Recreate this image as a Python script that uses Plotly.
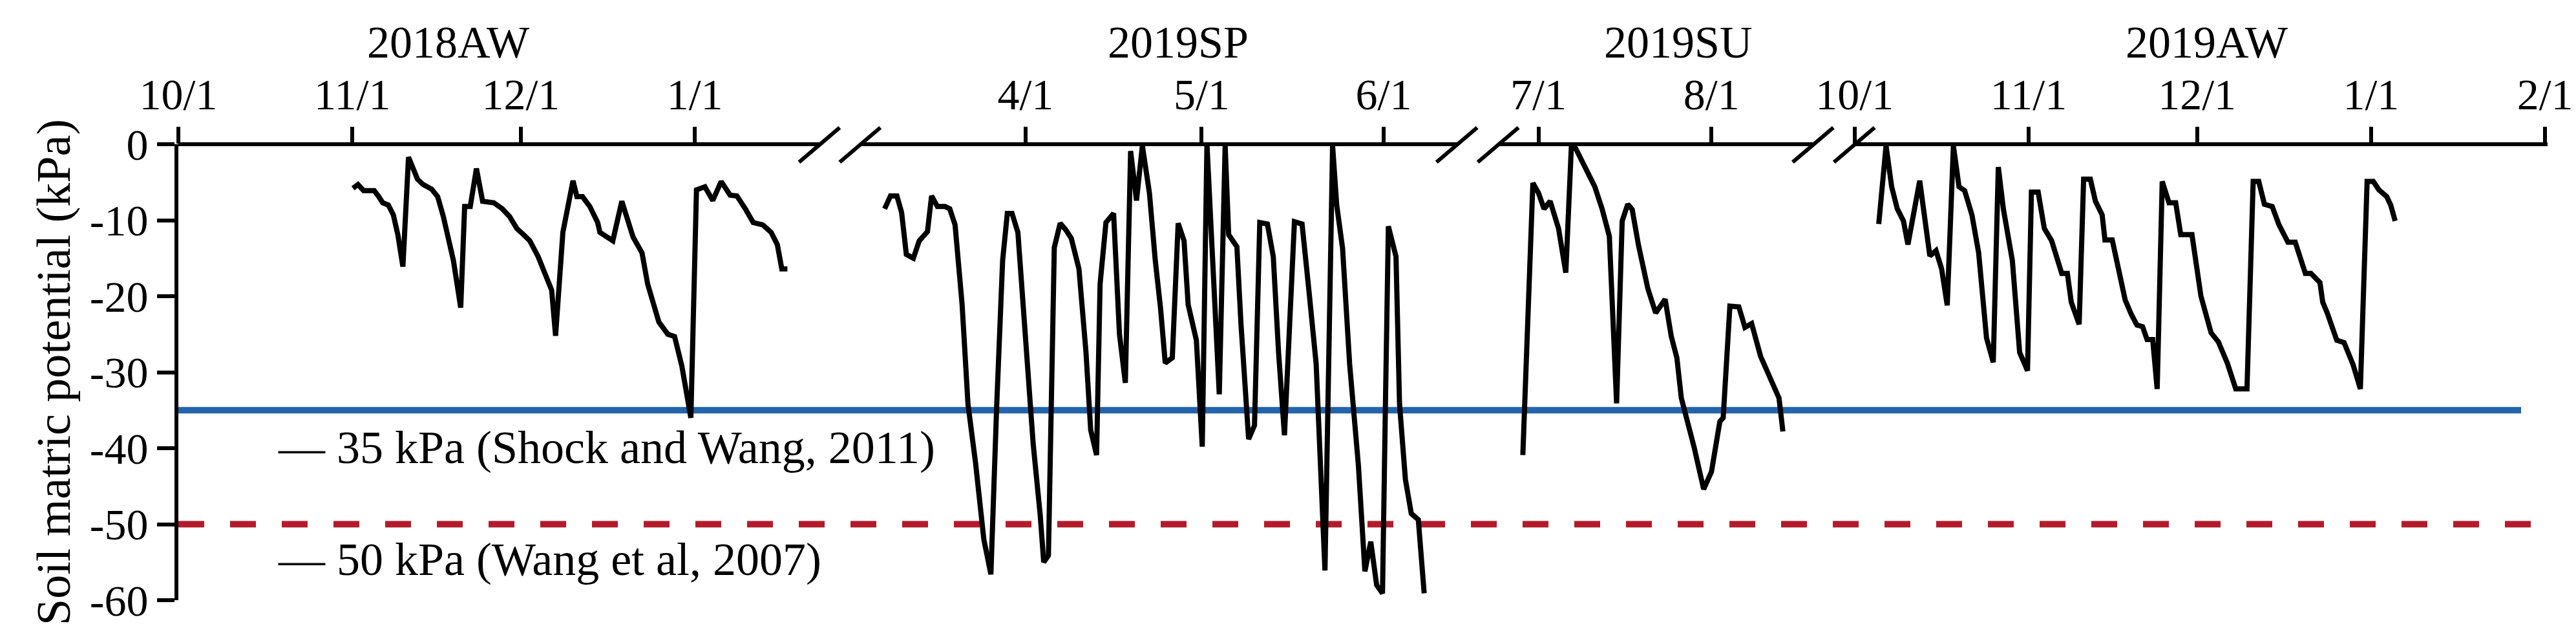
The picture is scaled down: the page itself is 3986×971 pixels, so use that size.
import plotly.graph_objects as go

# ---- data (days after each season's anchor date, soil matric potential kPa) ----
aw18_day = [31.1,32,33,34.9,35.7,36.4,37.4,38.3,39.1,40,41,42.6,43.6,45.1,46.2,47.2,49,50.3,51,52,53.1,54.2,56.2,57.7,59,60.3,61.5,62.6,64.1,65.6,66.5,67.2,68.5,70.3,71,72,73.3,74.7,75.1,77.4,79,81,82.6,83.6,85.6,87.2,88.4,89.7,91.3,92.3,93.8,95.2,96.7,98.3,99.5,101,102.4,104.1,105.6,106.7,107.5,108.5]
aw18_val = [-5.8,-5.3,-6.1,-6.1,-6.9,-7.7,-8,-9.3,-11.9,-16.1,-1.7,-4.6,-5.3,-5.9,-6.9,-9.5,-15.3,-21.5,-8.2,-8.2,-3.2,-7.5,-7.7,-8.5,-9.5,-11.1,-11.9,-12.7,-14.8,-17.4,-19.2,-25.2,-11.6,-4.8,-6.9,-6.9,-8.2,-10.3,-11.6,-12.7,-7.5,-12.2,-14.3,-18.4,-23.4,-25,-25.3,-29.2,-36,-6,-5.6,-7.4,-4.9,-6.7,-6.8,-8.5,-10.3,-10.6,-11.6,-13.2,-16.4,-16.4]

sp19_day = [-24,-23,-21.9,-21.1,-20.3,-19.1,-18.1,-16.7,-16,-15,-13.7,-12.9,-12,-10.8,-9.8,-8.5,-7.1,-5.9,-4.9,-3.9,-3.1,-2.3,-1.3,0,1.3,2.5,3.1,3.9,4.9,5.9,6.9,7.8,9.1,10.3,11.1,12.1,12.7,13.7,15,16,17,17.9,18.9,19.9,21.1,22.1,23,23.8,25,26,27,27.7,29.1,30.1,30.9,33,34,34.6,36,36.7,38,39,39.9,41.2,42.2,43.1,44.1,45.8,47.1,48.3,49.5,51,52.3,53,54,55.2,56.7,57.8,58.8,59.8,60.8,61.3,61.8,63.1,63.7,64.7,65.7,66.9,67.9]
sp19_val = [-8.5,-6.8,-6.8,-9,-14.5,-15,-12.7,-11.5,-6.8,-8.2,-8.2,-8.5,-10.6,-21.1,-34.2,-42,-52,-56.6,-34.2,-15.3,-9.1,-9.1,-11.6,-26.3,-39.4,-48.8,-55,-54.1,-13.6,-10.4,-11.3,-12.4,-16.4,-27.4,-37.6,-40.9,-18.4,-10.3,-9.1,-25,-31.4,-0.9,-7.4,-0.2,-6.4,-15.3,-21.6,-28.8,-28.1,-10.4,-12.7,-21.1,-25.8,-39.8,0,-32.9,-0.2,-11.9,-13.5,-23.7,-38.8,-37,-10.3,-10.5,-14.8,-27.4,-38.3,-10.2,-10.5,-19.5,-28.9,-56.1,-0.2,-8,-13.7,-28.9,-42.3,-56.2,-52.3,-58,-59.1,-34.2,-10.8,-14.8,-34.2,-44.1,-48.6,-49.4,-59.1]

su19_day = [-2.8,-1,0,1,2.1,3.6,4.9,5.9,6.7,8.3,10.1,11.4,12.7,14,15,16,16.8,17.9,18.9,19.6,21,22.7,23.8,24.8,25.6,27.9,29.6,31,32.5,33.1,34.3,35.9,37,38.2,39.8,41.3,43.1,43.8]
su19_val = [-40.9,-5.1,-6.4,-8.5,-7.5,-11.1,-16.9,-0.2,-0.6,-3,-5.6,-8.5,-12.1,-34.1,-10.1,-7.9,-8.6,-13.2,-16.4,-19,-22.2,-20.4,-25.3,-28.1,-33.4,-39.9,-45.4,-43.1,-36.5,-36,-21.3,-21.4,-24.1,-23.6,-27.9,-30.5,-33.4,-37.8]

aw19_day = [4.3,5.6,6.6,7.6,8.7,9.5,11.6,12.4,13.4,14.5,15.5,16.5,17.6,18.6,19.6,20.9,22.1,23.5,24.7,25.6,26.5,28.1,29.4,30.8,31.5,32.7,33.8,35.1,36.9,37.9,38.6,40,40.8,42,42.9,44.1,44.6,45.9,47.2,48.2,49.3,50.3,51.3,52.1,53.1,53.9,54.8,56,57.2,58.1,60.1,61.7,63.5,64.8,66.4,67.9,69.9,71,72,73,74.4,75.6,77.2,78.5,80.3,81.3,82.9,83.4,84.2,85.9,87.2,88.8,90.1,91.3,92.4,93.4,94.8,95.5,96.3]
aw19_val = [-10.5,-0.2,-5.6,-8.5,-10.1,-13.2,-4.8,-9,-14.7,-14,-16.4,-21.2,-0.2,-5.6,-6.1,-9.3,-14.3,-25.5,-28.7,-3,-8.5,-15.3,-27.4,-29.8,-6.3,-6.3,-11.1,-12.7,-17,-17,-20.8,-23.7,-4.6,-4.6,-7.5,-9.3,-12.6,-12.6,-17.1,-20.5,-22.4,-23.8,-24,-25.7,-25.7,-32.2,-4.9,-7.7,-7.7,-11.9,-11.9,-20,-24.8,-26,-28.8,-32.2,-32.2,-4.9,-4.9,-7.9,-8.2,-10.6,-12.9,-12.9,-17,-17,-18.2,-20.8,-22.2,-25.8,-26.1,-29,-32.2,-4.9,-4.9,-6,-6.9,-8,-10.1]

season_labels = ["2018AW", "2019SP", "2019SU", "2019AW"]
tick_labels = ["10/1","11/1","12/1","1/1","4/1","5/1","6/1","7/1","8/1","10/1","11/1","12/1","1/1","2/1"]
tick_days = [0,31,61,92, 0,30,61, 0,31, 0,31,61,92,123]
tick_seg = [0,0,0,0, 1,1,1, 2,2, 3,3,3,3,3]
thresholds = [-35, -50]
threshold_text = ["\u2014 35 kPa (Shock and Wang, 2011)", "\u2014 50 kPa (Wang et al, 2007)"]
y_ticks = [0,-10,-20,-30,-40,-50,-60]

# ---- broken-axis layout: segment origin (axis units) and scale per day ----
seg_origin = [268, 1581, 2376, 2866]
seg_scale = [8.7, 9.1, 8.65, 8.7]
def to_axis(seg, days):
    return [seg_origin[seg] + d * seg_scale[seg] for d in days]

fig = go.Figure()
for i, (d, v) in enumerate([(aw18_day, aw18_val), (sp19_day, sp19_val), (su19_day, su19_val), (aw19_day, aw19_val)]):
    fig.add_trace(go.Scatter(x=to_axis(i, d), y=v, mode="lines",
                             line=dict(color="black", width=8), showlegend=False))

tickvals = [to_axis(s, [d])[0] for s, d in zip(tick_seg, tick_days)]
FONT = "Liberation Serif, Times New Roman, serif"
X0, X1 = 268, 3940

def ypaper(px):  # pixel row -> paper y (plot top at 215, bottom at 924.5)
    return 1 - (px - 215) / 709.5

shapes = []
shapes.append(dict(type="line", xref="x", yref="y", x0=X0, x1=3899, y0=thresholds[0], y1=thresholds[0],
                   line=dict(color="#2564AA", width=10), layer="below"))
shapes.append(dict(type="line", xref="x", yref="y", x0=X0, x1=3915, y0=thresholds[1], y1=thresholds[1],
                   line=dict(color="#B31B2B", width=10, dash="40px,40px"), layer="below"))
for a, b in [(X0, 1262), (1325, 2250), (2313, 2802), (2866, X1)]:
    shapes.append(dict(type="line", xref="x", yref="paper", x0=a, x1=b, y0=1, y1=1,
                       line=dict(color="black", width=6)))
for a in [1230, 1293, 2218, 2282, 2770, 2834]:
    shapes.append(dict(type="line", xref="x", yref="paper", x0=a, x1=a + 63, y0=ypaper(243), y1=ypaper(189),
                       line=dict(color="black", width=6)))

annotations = []
season_x = [686, 1818, 2592, 3412]
for t, x in zip(season_labels, season_x):
    annotations.append(dict(text=t, x=x, xref="x", y=ypaper(56), yref="paper", showarrow=False,
                            font=dict(family=FONT, size=70, color="black"), xanchor="center", yanchor="middle"))
for t, y in zip(threshold_text, [687, 861]):
    annotations.append(dict(text=t, x=420, xref="x", y=ypaper(y), yref="paper", showarrow=False,
                            font=dict(family=FONT, size=72, color="black"), xanchor="left", yanchor="middle"))

fig.update_layout(
    width=3986, height=971, paper_bgcolor="white", plot_bgcolor="white",
    margin=dict(l=268, r=46, t=215, b=47),
    shapes=shapes, annotations=annotations,
    xaxis=dict(range=[X0, X1], side="top", tickvals=tickvals, ticktext=tick_labels,
               ticks="outside", ticklen=26, tickwidth=6, tickcolor="black", showline=False,
               showgrid=False, zeroline=False, tickfont=dict(family=FONT, size=68, color="black")),
    yaxis=dict(range=[-60, 0], tickvals=y_ticks, ticktext=[str(v) for v in y_ticks],
               ticks="outside", ticklen=27, tickwidth=6, tickcolor="black", showline=True,
               linewidth=6, linecolor="black", showgrid=False, zeroline=False,
               tickfont=dict(family=FONT, size=68, color="black"),
               title=dict(text="Soil matric potential (kPa)", font=dict(family=FONT, size=74, color="black"),
                          standoff=8)),
)
fig.write_html("out.html")
